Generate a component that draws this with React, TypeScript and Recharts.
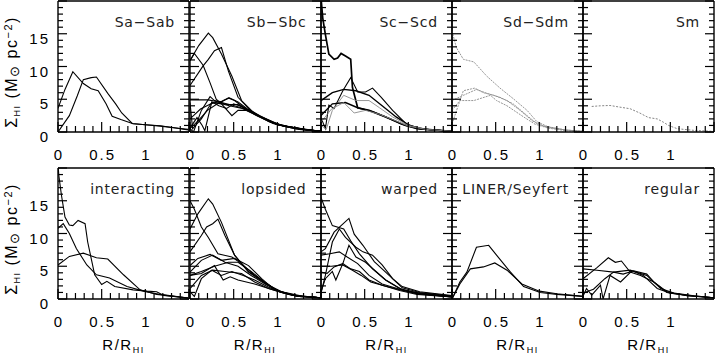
import React from 'react';
import { LineChart, Line, XAxis, YAxis } from 'recharts';

type Pt = [number, number];
interface Series {
  pts: Pt[];
  color?: string;
  width?: number;
  dash?: string;
}

// tick values
const X_TICKS = [0, 0.1, 0.2, 0.3, 0.4, 0.5, 0.6, 0.7, 0.8, 0.9, 1, 1.1, 1.2, 1.3, 1.4, 1.5];
const Y_TICKS = [0, 1, 2, 3, 4, 5, 6, 7, 8, 9, 10, 11, 12, 13, 14, 15, 16, 17, 18, 19, 20];
const X_LABELS = [0, 0.5, 1];
const Y_LABELS = [0, 5, 10, 15];

// ---- Sa-Sab
const saSab1: Pt[] = [[0, 3.6], [0.08, 6.5], [0.17, 9.2], [0.29, 7.4], [0.38, 6.6], [0.46, 6.3], [0.55, 4.3], [0.62, 2.4], [0.72, 1.9], [0.86, 1.25], [1.0, 1.1], [1.17, 0.95], [1.35, 0.6], [1.49, 0.3]];
const saSab2: Pt[] = [[0, 0], [0.13, 2.5], [0.22, 5.5], [0.29, 8.0], [0.38, 8.3], [0.44, 8.4], [0.57, 5.9], [0.66, 4.3], [0.73, 2.9], [0.85, 1.3], [1.0, 1.1], [1.17, 0.9], [1.35, 0.6], [1.49, 0.4]];

// ---- Sb-Sbc
const sbSbc1: Pt[] = [[0, 10.9], [0.1, 13.2], [0.21, 15.1], [0.26, 14.4], [0.36, 11.9], [0.48, 8.5], [0.59, 4.8], [0.74, 2.8], [0.93, 1.5], [1.13, 0.8], [1.39, 0.3], [1.5, 0.1]];
const sbSbc2: Pt[] = [[0, 7.1], [0.15, 10.1], [0.21, 11.1], [0.28, 12.4], [0.36, 12.9], [0.44, 9.3], [0.55, 5.3], [0.7, 3.2], [0.9, 1.6], [1.1, 0.8], [1.35, 0.3], [1.5, 0.1]];
const sbSbc3: Pt[] = [[0, 10.9], [0.05, 12.0], [0.15, 10.2], [0.23, 7.5], [0.3, 5.0], [0.36, 4.3], [0.45, 4.0], [0.6, 3.6], [0.78, 2.4], [1.0, 1.1], [1.3, 0.4], [1.5, 0.1]];
const sbSbc4: Pt[] = [[0, 4.9], [0.1, 4.9], [0.21, 4.9], [0.36, 4.5], [0.51, 4.0], [0.63, 3.5], [0.82, 2.3], [1.05, 1.0], [1.32, 0.4], [1.5, 0.1]];
const sbSbc5: Pt[] = [[0, 0.5], [0.04, 0], [0.13, 3.3], [0.23, 5.4], [0.28, 4.8], [0.36, 4.6], [0.44, 5.2], [0.51, 4.8], [0.6, 3.9], [0.75, 2.6], [0.95, 1.3], [1.2, 0.5], [1.5, 0.1]];
const sbSbc6: Pt[] = [[0, 4.5], [0.03, 0.5], [0.13, 2.0], [0.25, 4.5], [0.36, 4.3], [0.48, 2.5], [0.55, 3.3], [0.65, 3.3], [0.8, 2.4], [1.0, 1.1], [1.25, 0.4], [1.5, 0.1]];
const sbSbc7: Pt[] = [[0, 0.6], [0.08, 2.2], [0.14, 1.0], [0.17, 0.2], [0.25, 4.6], [0.33, 4.0], [0.42, 3.6], [0.5, 4.3], [0.6, 3.8], [0.78, 2.5], [1.0, 1.1], [1.3, 0.4], [1.5, 0.1]];
const sbSbc8: Pt[] = [[0, 0.5], [0.1, 1.8], [0.2, 3.3], [0.3, 4.2], [0.38, 4.8], [0.45, 5.2], [0.55, 4.6], [0.65, 3.6], [0.8, 2.5], [1.0, 1.2], [1.25, 0.5], [1.5, 0.1]];
const sbSbc9: Pt[] = [[0, 2.0], [0.12, 3.5], [0.24, 4.3], [0.32, 4.6], [0.42, 4.2], [0.55, 4.2], [0.68, 3.2], [0.85, 2.0], [1.05, 1.0], [1.3, 0.4], [1.5, 0.1]];

// ---- Sc-Scd
const scScd1: Pt[] = [[0, 20.5], [0.02, 17.4], [0.05, 14.9], [0.09, 11.9], [0.15, 11.1], [0.19, 11.3], [0.23, 12.0], [0.28, 11.6], [0.34, 11.1], [0.36, 6.8], [0.42, 3.7], [0.55, 3.3], [0.74, 2.3], [0.97, 1.0], [1.13, 0.5], [1.5, 0.1]];
const scScd2: Pt[] = [[0, 2.2], [0.05, 0.5], [0.09, 4.1], [0.15, 3.6], [0.25, 6.3], [0.34, 8.3], [0.42, 6.1], [0.51, 6.1], [0.59, 6.7], [0.69, 5.3], [0.82, 3.3], [0.97, 1.3], [1.13, 0.5], [1.5, 0.1]];
const scScd3: Pt[] = [[0, 4.8], [0.13, 6.0], [0.26, 6.5], [0.4, 6.3], [0.55, 5.6], [0.7, 4.0], [0.86, 2.3], [1.01, 1.0], [1.2, 0.4], [1.5, 0.1]];
const scScd4: Pt[] = [[0, 1.0], [0.06, 0.4], [0.13, 3.3], [0.26, 5.6], [0.4, 4.8], [0.55, 4.8], [0.67, 3.7], [0.82, 2.3], [1.0, 1.0], [1.2, 0.4], [1.5, 0.1]];
const scScd5: Pt[] = [[0, 2.5], [0.13, 4.3], [0.28, 4.5], [0.42, 3.7], [0.59, 3.1], [0.74, 2.3], [0.92, 1.2], [1.1, 0.5], [1.5, 0.1]];
const scScd6: Pt[] = [[0, 1.5], [0.12, 3.5], [0.26, 4.5], [0.38, 2.9], [0.51, 3.3], [0.67, 2.7], [0.82, 1.9], [1.0, 0.9], [1.2, 0.4], [1.5, 0.1]];

// ---- Sd-Sdm
const sdSdm1: Pt[] = [[0, 15.4], [0.05, 12.9], [0.13, 11.1], [0.25, 10.7], [0.4, 8.5], [0.55, 6.7], [0.7, 5.1], [0.86, 3.3], [0.97, 1.6], [1.1, 0.8], [1.3, 0.3], [1.5, 0.1]];
const sdSdm2: Pt[] = [[0, 1.2], [0.05, 3.2], [0.13, 6.3], [0.26, 6.7], [0.36, 6.0], [0.48, 5.6], [0.63, 4.8], [0.78, 3.3], [0.92, 1.7], [1.05, 0.9], [1.3, 0.3], [1.5, 0.1]];
const sdSdm3: Pt[] = [[0, 4.8], [0.13, 5.6], [0.28, 6.5], [0.4, 5.9], [0.55, 5.3], [0.7, 4.3], [0.86, 2.5], [0.97, 1.3], [1.1, 0.7], [1.3, 0.3], [1.5, 0.1]];
const sdSdm4: Pt[] = [[0, 3.3], [0.09, 4.8], [0.25, 4.8], [0.44, 5.6], [0.51, 4.8], [0.63, 4.0], [0.82, 2.3], [0.95, 1.2], [1.1, 0.6], [1.3, 0.2], [1.5, 0.1]];

// ---- Sm
const sm1: Pt[] = [[0.1, 3.9], [0.2, 4.0], [0.31, 4.05], [0.42, 3.8], [0.54, 3.55], [0.65, 2.9], [0.75, 2.2], [0.85, 2.0], [0.92, 1.5], [0.98, 1.0], [1.08, 0.5], [1.27, 0.25], [1.5, 0.1]];

// ---- interacting
const inter1: Pt[] = [[0, 20.5], [0.01, 18.8], [0.04, 15.8], [0.08, 12.5], [0.13, 11.3], [0.17, 11.2], [0.23, 12.0], [0.31, 11.5], [0.34, 8.7], [0.42, 3.7], [0.5, 2.2], [0.56, 2.7], [0.65, 1.9], [0.86, 1.4], [1.02, 1.2], [1.13, 1.1], [1.21, 0.55], [1.49, 0.15]];
const inter2: Pt[] = [[0, 10.8], [0.06, 11.5], [0.13, 10.0], [0.21, 7.7], [0.33, 5.2], [0.44, 3.7], [0.59, 3.2], [0.79, 1.9], [0.98, 1.2], [1.17, 0.7], [1.49, 0.15]];
const inter3: Pt[] = [[0, 5.2], [0.13, 6.5], [0.29, 7.0], [0.44, 6.3], [0.57, 6.1], [0.75, 3.7], [0.94, 1.4], [1.13, 0.7], [1.49, 0.15]];

// ---- lopsided
const lop1: Pt[] = [[0, 10.7], [0.09, 13.0], [0.21, 15.3], [0.26, 14.5], [0.36, 11.7], [0.51, 6.7], [0.67, 4.1], [0.86, 2.4], [1.01, 1.2], [1.2, 0.5], [1.5, 0.2]];
const lop2: Pt[] = [[0, 7.2], [0.13, 9.7], [0.19, 11.0], [0.26, 11.5], [0.32, 12.2], [0.4, 9.7], [0.51, 6.7], [0.67, 4.2], [0.86, 2.5], [1.01, 1.2], [1.24, 0.45], [1.5, 0.2]];
const lop3: Pt[] = [[0, 15.0], [0.05, 13.7], [0.13, 11.0], [0.21, 9.4], [0.32, 6.9], [0.48, 6.4], [0.59, 5.4], [0.74, 3.6], [0.93, 1.9], [1.05, 1.1], [1.28, 0.45], [1.5, 0.2]];
const lop4: Pt[] = [[0, 5.1], [0.09, 6.2], [0.23, 6.8], [0.36, 5.9], [0.51, 6.2], [0.67, 5.1], [0.82, 3.1], [0.97, 1.4], [1.15, 0.6], [1.5, 0.2]];
const lop5: Pt[] = [[0, 4.1], [0.13, 5.9], [0.26, 6.7], [0.4, 5.6], [0.55, 5.0], [0.7, 3.6], [0.86, 2.3], [1.0, 1.3], [1.2, 0.5], [1.5, 0.2]];
const lop6: Pt[] = [[0, 3.6], [0.13, 4.2], [0.28, 5.0], [0.44, 5.6], [0.55, 5.6], [0.7, 4.2], [0.85, 2.6], [1.0, 1.3], [1.2, 0.5], [1.5, 0.2]];
const lop7: Pt[] = [[0, 1.1], [0.05, 0.4], [0.13, 3.1], [0.25, 4.4], [0.36, 3.6], [0.48, 4.2], [0.61, 3.6], [0.74, 2.9], [0.9, 1.8], [1.05, 1.0], [1.25, 0.4], [1.5, 0.2]];
const lop8: Pt[] = [[0, 3.6], [0.13, 3.9], [0.28, 5.1], [0.38, 2.9], [0.46, 3.4], [0.55, 2.9], [0.74, 2.3], [0.9, 1.6], [1.05, 1.0], [1.25, 0.4], [1.5, 0.2]];
const lop9: Pt[] = [[0, 1.6], [0.13, 3.6], [0.26, 4.4], [0.4, 4.2], [0.59, 3.9], [0.74, 2.6], [0.9, 1.6], [1.05, 1.0], [1.25, 0.4], [1.5, 0.2]];

// ---- warped
const warp1: Pt[] = [[0, 15.5], [0.05, 13.7], [0.13, 11.2], [0.26, 10.7], [0.34, 8.9], [0.44, 6.9], [0.59, 4.6], [0.74, 2.9], [0.93, 1.4], [1.13, 0.9], [1.51, 0.35]];
const warp2: Pt[] = [[0, 7.2], [0.05, 7.7], [0.15, 10.2], [0.23, 11.2], [0.32, 12.3], [0.38, 9.9], [0.48, 8.2], [0.61, 5.7], [0.78, 3.6], [0.93, 1.7], [1.13, 1.0], [1.51, 0.45]];
const warp3: Pt[] = [[0, 0.9], [0.05, 3.6], [0.13, 8.7], [0.21, 10.7], [0.28, 9.4], [0.4, 7.9], [0.48, 7.2], [0.59, 6.7], [0.7, 5.2], [0.82, 3.1], [0.93, 1.9], [1.13, 1.1], [1.51, 0.5]];
const warp4: Pt[] = [[0, 4.1], [0.07, 3.9], [0.15, 4.9], [0.25, 5.4], [0.32, 8.2], [0.4, 6.4], [0.51, 5.6], [0.63, 4.2], [0.74, 2.9], [0.9, 1.6], [1.1, 0.9], [1.5, 0.3]];
const warp5: Pt[] = [[0, 1.1], [0.05, 3.1], [0.13, 4.2], [0.17, 2.9], [0.25, 5.4], [0.34, 4.6], [0.44, 4.2], [0.55, 2.9], [0.7, 2.1], [0.9, 1.4], [1.1, 0.8], [1.5, 0.3]];
const warp6: Pt[] = [[0, 6.7], [0.1, 6.9], [0.21, 7.2], [0.3, 6.4], [0.42, 5.4], [0.55, 3.6], [0.7, 2.3], [0.9, 1.5], [1.1, 0.8], [1.5, 0.3]];
const warp7: Pt[] = [[0, 5.0], [0.12, 5.0], [0.25, 5.2], [0.36, 4.4], [0.46, 3.6], [0.57, 2.6], [0.7, 2.1], [0.9, 1.3], [1.1, 0.7], [1.5, 0.3]];

// ---- LINER/Seyfert
const liner1: Pt[] = [[0, 0], [0.09, 2.6], [0.17, 4.1], [0.28, 7.9], [0.42, 8.2], [0.51, 6.7], [0.67, 4.1], [0.82, 1.9], [1.01, 1.0], [1.2, 0.7], [1.5, 0.4]];
const liner2: Pt[] = [[0, 0], [0.09, 2.3], [0.21, 4.6], [0.36, 4.9], [0.49, 5.5], [0.63, 4.4], [0.8, 2.3], [1.0, 1.2], [1.2, 0.8], [1.5, 0.4]];

// ---- regular
const reg1: Pt[] = [[0, 4.6], [0.16, 4.4], [0.35, 4.1], [0.54, 4.4], [0.73, 3.6], [0.89, 1.6], [1.04, 0.9], [1.27, 0.5], [1.5, 0.2]];
const reg2: Pt[] = [[0, 3.1], [0.16, 4.8], [0.29, 6.3], [0.37, 5.6], [0.44, 5.8], [0.54, 4.1], [0.66, 3.6], [0.81, 2.6], [0.96, 1.1], [1.19, 0.5], [1.5, 0.2]];
const reg3: Pt[] = [[0, 0.4], [0.04, 1.6], [0.1, 0.6], [0.2, 2.1], [0.23, 0], [0.31, 3.6], [0.43, 2.6], [0.56, 4.3], [0.69, 3.6], [0.85, 1.6], [1.0, 0.9], [1.25, 0.5], [1.5, 0.2]];
const reg4: Pt[] = [[0, 0.9], [0.12, 1.5], [0.25, 3.1], [0.35, 4.1], [0.46, 3.8], [0.58, 4.3], [0.73, 3.8], [0.81, 2.6], [0.96, 1.0], [1.2, 0.5], [1.5, 0.2]];

const GRAY = '#8a8a8a';

const PANELS: { title: string; series: Series[] }[] = [
  { title: 'Sa\u2212Sab', series: [{ pts: saSab1 }, { pts: saSab2 }] },
  {
    title: 'Sb\u2212Sbc',
    series: [sbSbc1, sbSbc2, sbSbc3, sbSbc4, sbSbc5, sbSbc6, sbSbc7, sbSbc8, sbSbc9].map((pts) => ({ pts })),
  },
  {
    title: 'Sc\u2212Scd',
    series: [
      { pts: scScd1, width: 1.7 },
      { pts: scScd2 },
      { pts: scScd3, width: 1.4 },
      { pts: scScd4, color: GRAY, width: 0.9 },
      { pts: scScd5, width: 1.4 },
      { pts: scScd6, color: GRAY, width: 0.9 },
    ],
  },
  {
    title: 'Sd\u2212Sdm',
    series: [sdSdm1, sdSdm2, sdSdm3, sdSdm4].map((pts) => ({ pts, color: GRAY, width: 0.9, dash: '2 1' })),
  },
  { title: 'Sm', series: [{ pts: sm1, color: '#777', width: 0.9, dash: '2 1.5' }] },
  { title: 'interacting', series: [{ pts: inter1 }, { pts: inter2 }, { pts: inter3 }] },
  {
    title: 'lopsided',
    series: [lop1, lop2, lop3, lop4, lop5, lop6, lop7, lop8, lop9].map((pts) => ({ pts })),
  },
  {
    title: 'warped',
    series: [warp1, warp2, warp3, warp4, warp5, warp6, warp7].map((pts) => ({ pts })),
  },
  { title: 'LINER/Seyfert', series: [{ pts: liner1 }, { pts: liner2 }] },
  { title: 'regular', series: [reg1, reg2, reg3, reg4].map((pts) => ({ pts })) },
];

// layout
const COL_X = [58, 189.5, 321, 452, 583];
const ROW_Y = [1, 168];
const PW = 131;
const PH = 131;
const ML = 50;
const MR = 4;
const MT = 2;
const MB = 34;
const FONT = '"Liberation Sans", Arial, Helvetica, sans-serif';
const AXIS_LINE = { stroke: '#000', strokeWidth: 1.4 };

const isMajorX = (v: number) => Math.abs(v * 2 - Math.round(v * 2)) < 1e-6;
const isMajorY = (v: number) => v % 5 === 0;

const bottomTick = (props: any) => {
  const { x, y, payload } = props;
  const v = payload.value;
  return (
    <g>
      <line x1={x} x2={x} y1={y} y2={y - (isMajorX(v) ? 10 : 6)} stroke="#000" strokeWidth={1.2} />
      {X_LABELS.includes(v) && (
        <text x={x + 1} y={y + 28} textAnchor="middle" fontSize={15} letterSpacing={2} fontFamily={FONT} fill="#000">
          {v}
        </text>
      )}
    </g>
  );
};

const topTick = (props: any) => {
  const { x, y, payload } = props;
  return <line x1={x} x2={x} y1={y} y2={y + (isMajorX(payload.value) ? 10 : 6)} stroke="#000" strokeWidth={1.2} />;
};

const makeLeftTick = (labels: boolean) => (props: any) => {
  const { x, y, payload } = props;
  const v = payload.value;
  return (
    <g>
      <line x1={x} x2={x + (isMajorY(v) ? 9 : 5)} y1={y} y2={y} stroke="#000" strokeWidth={1.2} />
      {labels && Y_LABELS.includes(v) && (
        <text x={x - 8} y={y + 10} textAnchor="end" fontSize={15} letterSpacing={2} fontFamily={FONT} fill="#000">
          {v}
        </text>
      )}
    </g>
  );
};

const rightTick = (props: any) => {
  const { x, y, payload } = props;
  return <line x1={x} x2={x - (isMajorY(payload.value) ? 9 : 5)} y1={y} y2={y} stroke="#000" strokeWidth={1.2} />;
};

const Panel = ({ idx }: { idx: number }) => {
  const panel = PANELS[idx];
  const col = idx % 5;
  const row = Math.floor(idx / 5);
  return (
    <div style={{ position: 'absolute', left: COL_X[col] - ML, top: ROW_Y[row] - MT }}>
      <LineChart
        width={PW + ML + MR}
        height={PH + MT + MB}
        margin={{ top: MT, right: MR, bottom: MB, left: ML }}
      >
        <XAxis
          xAxisId={0}
          dataKey="r"
          type="number"
          domain={[0, 1.5]}
          ticks={X_TICKS}
          interval={0}
          orientation="bottom"
          mirror
          tickLine={false}
          tickSize={0}
          tickMargin={0}
          tick={bottomTick}
          axisLine={AXIS_LINE}
          allowDataOverflow
        />
        <XAxis
          xAxisId="top"
          type="number"
          domain={[0, 1.5]}
          ticks={X_TICKS}
          interval={0}
          orientation="top"
          mirror
          tickLine={false}
          tickSize={0}
          tickMargin={0}
          tick={topTick}
          axisLine={AXIS_LINE}
          allowDataOverflow
        />
        <YAxis
          yAxisId={0}
          type="number"
          domain={[0, 20]}
          ticks={Y_TICKS}
          interval={0}
          orientation="left"
          mirror
          tickLine={false}
          tickSize={0}
          tickMargin={0}
          tick={makeLeftTick(col === 0)}
          axisLine={AXIS_LINE}
          allowDataOverflow
        />
        <YAxis
          yAxisId="right"
          type="number"
          domain={[0, 20]}
          ticks={Y_TICKS}
          interval={0}
          orientation="right"
          mirror
          tickLine={false}
          tickSize={0}
          tickMargin={0}
          tick={rightTick}
          axisLine={AXIS_LINE}
          allowDataOverflow
        />
        {panel.series.map((s, i) => (
          <Line
            key={i}
            data={s.pts.map(([r, v]) => ({ r, v }))}
            dataKey="v"
            type="linear"
            stroke={s.color || '#000'}
            strokeWidth={s.width || 1.1}
            strokeDasharray={s.dash}
            dot={false}
            activeDot={false}
            isAnimationActive={false}
          />
        ))}
      </LineChart>
    </div>
  );
};

const App = () => {
  return (
    <div
      style={{
        position: 'absolute',
        left: 0,
        top: 0,
        width: 716,
        height: 355,
        overflow: 'hidden',
        background: '#fff',
      }}
    >
      {PANELS.map((_, i) => (
        <Panel key={i} idx={i} />
      ))}
      <svg width={716} height={355} style={{ position: 'absolute', left: 0, top: 0, pointerEvents: 'none' }}>
        {PANELS.map((p, i) => {
          const col = i % 5;
          const row = Math.floor(i / 5);
          return (
            <text
              key={i}
              x={COL_X[col] + PW - 14}
              y={ROW_Y[row] + 26}
              textAnchor="end"
              fontSize={14}
              letterSpacing={0.8}
              fontFamily='"DejaVu Sans", sans-serif'
              fill="#222"
            >
              {p.title}
            </text>
          );
        })}
        {ROW_Y.map((ry, i) => (
          <text
            key={i}
            transform="rotate(-90)"
            x={-(ry + 71)}
            y={17}
            textAnchor="middle"
            fontSize={16}
            letterSpacing={1.5}
            fontFamily={FONT}
            fill="#000"
          >
            {'\u03A3'}
            <tspan fontSize={9} dy={3}>HI</tspan>
            <tspan dy={-3}>{' (M'}</tspan>
            <tspan fontSize={13} dy={2}>{'\u2299'}</tspan>
            <tspan dy={-2}>{' pc'}</tspan>
            <tspan fontSize={11} dy={-5}>{'\u22122'}</tspan>
            <tspan dy={5}>)</tspan>
          </text>
        ))}
        {COL_X.map((cx, i) => (
          <text
            key={i}
            x={cx + PW / 2}
            y={350}
            textAnchor="middle"
            fontSize={15}
            letterSpacing={1.5}
            fontFamily={FONT}
            fill="#000"
          >
            R/R
            <tspan fontSize={9} dy={3}>HI</tspan>
          </text>
        ))}
      </svg>
    </div>
  );
};

export default App;
